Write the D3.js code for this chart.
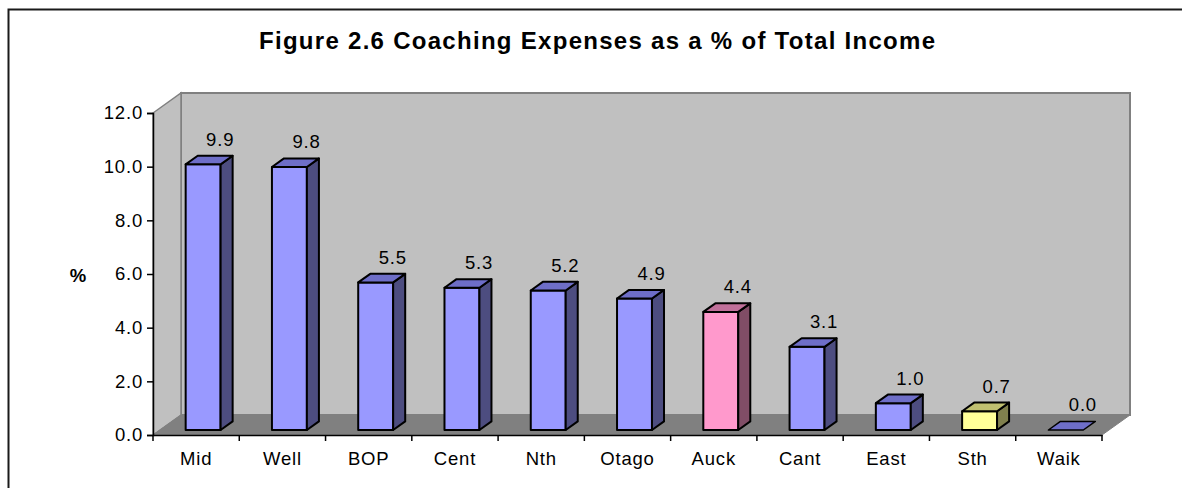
<!DOCTYPE html>
<html>
<head>
<meta charset="utf-8">
<script src="https://cdn.jsdelivr.net/npm/d3@7"></script>
<style>
  body { margin: 0; background: #fff; }
  text { font-family: "Liberation Sans", Arial, sans-serif; }
</style>
</head>
<body>
<div id="main"></div>
<script>
// data
var categories = ["Mid", "Well", "BOP", "Cent", "Nth", "Otago", "Auck", "Cant", "East", "Sth", "Waik"];
var values = [9.9, 9.8, 5.5, 5.3, 5.2, 4.9, 4.4, 3.1, 1.0, 0.7, 0.0];
var labels = ["9.9", "9.8", "5.5", "5.3", "5.2", "4.9", "4.4", "3.1", "1.0", "0.7", "0.0"];
var yTicks = [0, 2, 4, 6, 8, 10, 12];
var highlight = { "Auck": "pink", "Sth": "yellow" };

var palette = {
  blue:   { front: "#9999FF", top: "#6E6EC8", side: "#4D4D80" },
  pink:   { front: "#FF99CC", top: "#C0709A", side: "#804D66" },
  yellow: { front: "#FFFF99", top: "#C0C070", side: "#80804D" }
};

var width = 1182, height = 488;
var labelFont = "18.5px", spacing = "0.8px";

var svg = d3.select("#main")
  .append("svg")
  .attr("width", width)
  .attr("height", height);

// outer chart border
svg.append("rect")
  .attr("x", 8.5).attr("y", 9.5)
  .attr("width", 1300).attr("height", 600)
  .attr("fill", "none")
  .attr("stroke", "#1a1a1a")
  .attr("stroke-width", 2);

// title
svg.append("text")
  .attr("x", 597).attr("y", 49)
  .attr("text-anchor", "middle")
  .attr("textLength", 676)
  .attr("lengthAdjust", "spacing")
  .style("font-size", "24px")
  .style("font-weight", "bold")
  .text("Figure 2.6 Coaching Expenses as a % of Total Income");

// scales
var x = d3.scaleBand()
  .domain(categories)
  .range([153, 1102])
  .padding(0);

var y = d3.scaleLinear()
  .domain([0, 12])
  .range([435, 113]);

// depth of the 3d box
var depth = { dx: 28, dy: -20 };
function shift(p, f) {
  return [p[0] + depth.dx * f, p[1] + depth.dy * f];
}
function poly(pts) {
  return "M" + pts.map(function (p) { return p[0] + "," + p[1]; }).join("L") + "Z";
}

var x0 = x.range()[0], x1 = x.range()[1];
var yb = y(0), yt = y(12);

// back wall
svg.append("path")
  .attr("d", poly([shift([x0, yt], 1), shift([x1, yt], 1), shift([x1, yb], 1), shift([x0, yb], 1)]))
  .attr("fill", "#C0C0C0")
  .attr("stroke", "#808080")
  .attr("stroke-width", 2);

// left wall
svg.append("path")
  .attr("d", poly([[x0, yt], shift([x0, yt], 1), shift([x0, yb], 1), [x0, yb]]))
  .attr("fill", "#C0C0C0")
  .attr("stroke", "#808080")
  .attr("stroke-width", 1.5);

// floor
svg.append("path")
  .attr("d", poly([[x0, yb], [x1, yb], shift([x1, yb], 1), shift([x0, yb], 1)]))
  .attr("fill", "#808080")
  .attr("stroke", "#808080")
  .attr("stroke-width", 1);

// bars
var barFrac = 0.405;
var f1 = 0.25, f2 = 0.68;

categories.forEach(function (c, i) {
  var v = values[i];
  var col = palette[highlight[c] || "blue"];
  var cx = x(c) + x.bandwidth() / 2;
  var w = x.bandwidth() * barFrac;
  var l = cx - w / 2, r = cx + w / 2;
  var fbl = shift([l, y(0)], f1), fbr = shift([r, y(0)], f1);
  var ftl = shift([l, y(v)], f1), ftr = shift([r, y(v)], f1);
  var btl = shift([l, y(v)], f2), btr = shift([r, y(v)], f2);
  var bbr = shift([r, y(0)], f2);
  var g = svg.append("g")
    .attr("stroke", "#000")
    .attr("stroke-width", 2)
    .attr("stroke-linejoin", "round");
  if (v > 0) {
    g.append("path").attr("d", poly([fbl, fbr, ftr, ftl])).attr("fill", col.front);
    g.append("path").attr("d", poly([fbr, bbr, btr, ftr])).attr("fill", col.side);
    g.append("path").attr("d", poly([ftl, ftr, btr, btl])).attr("fill", col.top);
  } else {
    g.append("path").attr("d", poly([ftl, ftr, btr, btl])).attr("fill", col.top)
      .attr("stroke-width", 1.5);
  }
  // value label
  var lc = shift([cx, y(v)], f2);
  svg.append("text")
    .attr("x", lc[0] + 5)
    .attr("y", lc[1] - 10)
    .attr("text-anchor", "middle")
    .style("font-size", labelFont)
    .style("letter-spacing", spacing)
    .text(labels[i]);
});

// y axis
var yAxis = svg.append("g")
  .attr("transform", "translate(" + x0 + ",0)")
  .call(d3.axisLeft(y).tickValues(yTicks).tickSize(6).tickPadding(4)
    .tickFormat(d3.format(".1f")));
yAxis.select(".domain").attr("stroke", "#000").attr("stroke-width", 1.5);
yAxis.selectAll(".tick line").attr("stroke", "#000").attr("stroke-width", 1.5);
yAxis.selectAll(".tick text")
  .attr("fill", "#000")
  .style("font-size", labelFont)
  .style("letter-spacing", spacing)
  .style("font-family", "'Liberation Sans', Arial, sans-serif");

// x axis
var xAxis = svg.append("g")
  .attr("transform", "translate(0," + yb + ")")
  .call(d3.axisBottom(x).tickSize(0).tickPadding(17));
xAxis.select(".domain").attr("stroke", "#000").attr("stroke-width", 1.5);
xAxis.selectAll(".tick text")
  .attr("fill", "#000")
  .style("font-size", labelFont)
  .style("letter-spacing", spacing)
  .style("font-family", "'Liberation Sans', Arial, sans-serif");
// tick marks on band boundaries
xAxis.selectAll(".bound")
  .data(categories.concat(["_end"]))
  .enter()
  .append("line")
  .attr("x1", function (d, i) { return i < categories.length ? x(d) : x1; })
  .attr("x2", function (d, i) { return i < categories.length ? x(d) : x1; })
  .attr("y1", 0).attr("y2", 6)
  .attr("stroke", "#000")
  .attr("stroke-width", 1.5);

// y axis title
svg.append("text")
  .attr("x", 78).attr("y", 282)
  .attr("text-anchor", "middle")
  .style("font-size", labelFont)
  .style("font-weight", "bold")
  .text("%");
</script>
</body>
</html>
